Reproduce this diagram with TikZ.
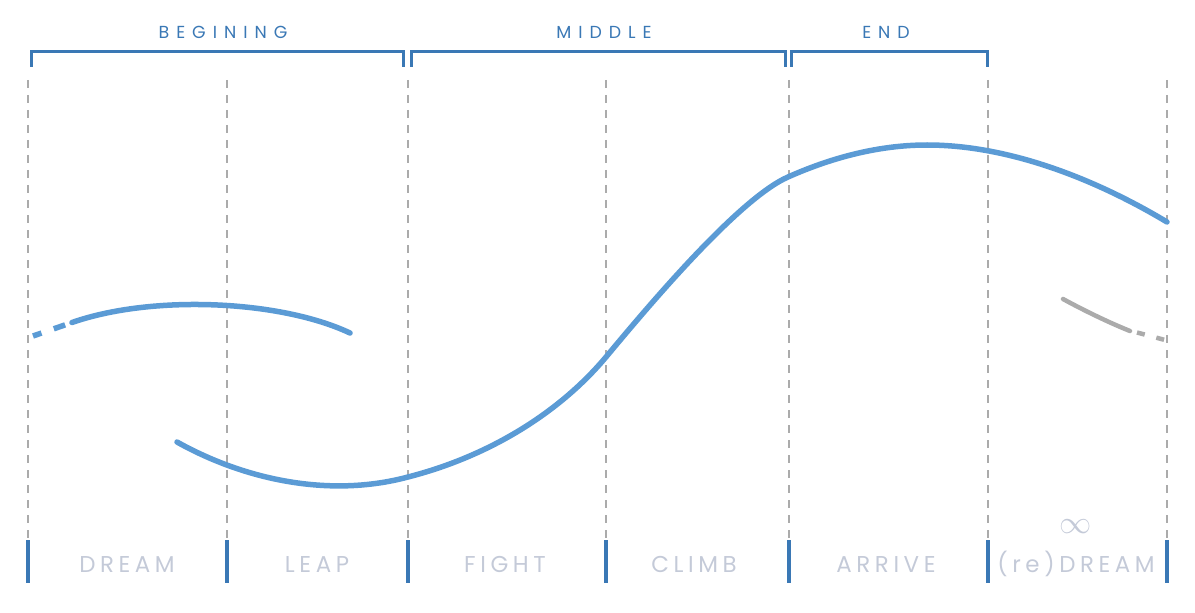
\documentclass[tikz,border=0pt]{standalone}
\usepackage{fontspec}
\setmainfont{Poppins}
\newfontfamily\lblfont[LetterSpace=20]{Poppins}
\newfontfamily\phasefont[LetterSpace=40]{Poppins}
\definecolor{barblue}{HTML}{3A78B5}
\definecolor{curveblue}{HTML}{5B9BD5}
\definecolor{guidegray}{HTML}{ABABAB}
\definecolor{lblgray}{HTML}{C4CAD8}
\begin{document}
\begin{tikzpicture}[x=1bp,y=-1bp,
  guide/.style={draw=guidegray, line width=2.2bp, dash pattern=on 8bp off 7bp},
  secbar/.style={draw=barblue, line width=4bp},
  bracketline/.style={draw=barblue, line width=3bp},
  story/.style={draw=curveblue, line width=5.5bp, line cap=round},
  redream/.style={draw=guidegray, line width=4.5bp, line cap=round},
  phase/.style={text=barblue, anchor=base, inner sep=0pt, font=\phasefont\fontsize{17.5}{17.5}\selectfont},
  section/.style={text=lblgray, anchor=base, inner sep=0pt, font=\lblfont\fontsize{23}{23}\selectfont}]
\useasboundingbox (0,0) rectangle (1195,613);

% guide lines and section bars
\foreach \n/\x in {a/28,b/227,c/408,d/606,e/789,f/988,g/1167}{
  \coordinate (t\n) at (\x,80);
  \coordinate (m\n) at (\x,538);
  \coordinate (u\n) at (\x,540);
  \coordinate (v\n) at (\x,583);
  \draw[guide] (t\n) -- (m\n);
  \draw[secbar] (u\n) -- (v\n);
}

% brackets
\coordinate (b1l) at (31.5,67); \coordinate (b1r) at (403.5,67);
\coordinate (b2l) at (411,67);  \coordinate (b2r) at (785,67);
\coordinate (b3l) at (791,67);  \coordinate (b3r) at (987,67);
\draw[bracketline] (b1l) |- (217,51.5) -| (b1r);
\draw[bracketline] (b2l) |- (598,51.5) -| (b2r);
\draw[bracketline] (b3l) |- (889,51.5) -| (b3r);
\node[phase] (pbeg) at (223,39) {BEGINING};
\node[phase] (pmid) at (604,39) {MIDDLE};
\node[phase] (pend) at (886,39) {END};

% section labels
\node[section] (sdream) at (127,572) {DREAM};
\node[section] (sleap) at (317,572) {LEAP};
\node[section] (sfight) at (505,572) {FIGHT};
\node[section] (sclimb) at (694,572) {CLIMB};
\node[section] (sarrive) at (886,572) {ARRIVE};
\node[section] (sredream) at (1076,572) {(re)DREAM};
\node[text=lblgray, inner sep=0pt, font=\fontsize{24}{24}\selectfont] (inf) at (1076,527) {\scalebox{1.3}{$\infty$}};

% upper short arc (dream)
\draw[story, line cap=butt, dash pattern=on 9bp off 13bp on 12bp off 60bp] (33,336) -- (72,322.5);
\draw[story] (72,322.5) .. controls (152,294.5) and (280,300) .. (350,333);

% main story curve
\draw[story] (177,442) .. controls (245,480) and (330,498) .. (408,477)
  .. controls (490,456) and (560,412) .. (606,357)
  .. controls (646,309) and (738,199) .. (788,177)
  .. controls (833,157) and (880,145) .. (927,145)
  .. controls (1010,145) and (1097,180) .. (1167,222);

% grey redream arc
\draw[redream] (1063,299) .. controls (1085,311) and (1110,323) .. (1130,331);
\draw[redream, line cap=butt, dash pattern=on 8bp off 12bp on 8bp off 30bp] (1137,332.5) -- (1165,340);
\end{tikzpicture}
\end{document}
